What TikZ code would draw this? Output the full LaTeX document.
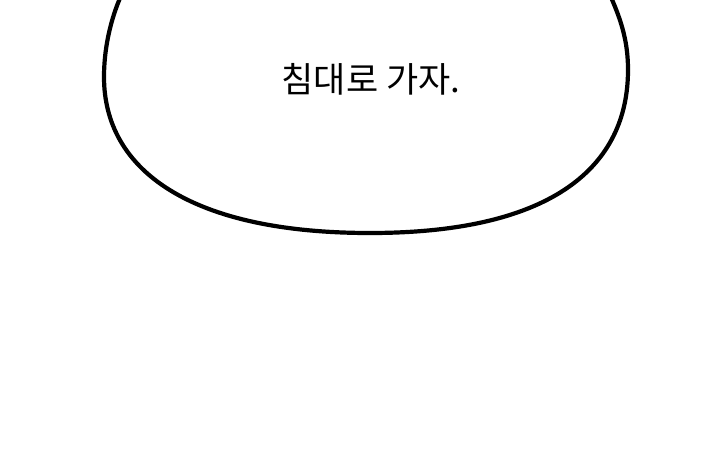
\documentclass[tikz,border=0pt]{standalone}
\usepackage{fontspec}
\newfontfamily\kr{Noto Sans CJK KR}
\begin{document}
\begin{tikzpicture}[x=1pt,y=-1pt,
  bubble/.style={draw=black,line width=4.2pt,fill=white},
  speech/.style={font=\kr\fontsize{35}{40}\selectfont,inner sep=0pt,anchor=center}]
\useasboundingbox (0,0) rectangle (720,458);
\fill[white] (0,0) rectangle (720,458);
\begin{scope}
\clip (0,0) rectangle (720,458);
\draw[bubble] (135,-30) .. controls (115,0) and (104,40) .. (104,77)
  .. controls (104,170) and (190,233) .. (370,233)
  .. controls (555,233) and (628,165) .. (628,70)
  .. controls (628,35) and (618,10) .. (598,-30) -- cycle;
\end{scope}
\node[speech] (t) at (371,79) {침대로 가자.};
\end{tikzpicture}
\end{document}
